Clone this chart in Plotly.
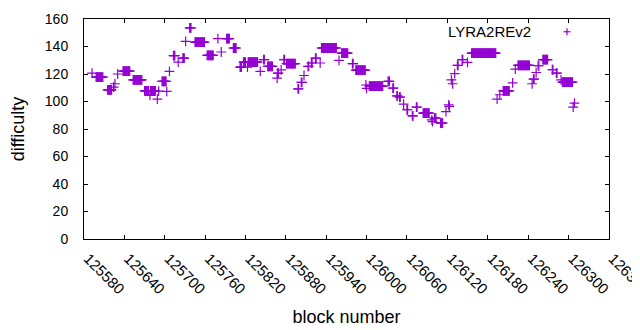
import plotly.graph_objects as go

# Difficulty data as runs of consecutive blocks sharing one difficulty value
run_start = [125592, 125598, 125615, 125624, 125626, 125630, 125638, 125653, 125670, 125678,
             125679, 125689, 125691, 125696, 125703, 125707, 125713, 125720, 125727, 125731,
             125737, 125745, 125763, 125779, 125784, 125792, 125802, 125812, 125817, 125823,
             125824, 125842, 125847, 125853, 125867, 125868, 125873, 125877, 125881, 125898,
             125903, 125907, 125913, 125918, 125924, 125931, 125933, 125959, 125963, 125979,
             125984, 125999, 126000, 126004, 126032, 126039, 126045, 126049, 126055, 126060,
             126068, 126074, 126084, 126097, 126098, 126101, 126110, 126118, 126122, 126123,
             126126, 126128, 126131, 126135, 126142, 126150, 126156, 126194, 126198, 126203,
             126217, 126221, 126225, 126246, 126248, 126252, 126255, 126262, 126276, 126282,
             126289, 126291, 126307, 126309]
run_len = [1, 11, 7, 1, 1, 1, 11, 14, 7, 1,
           8, 1, 1, 7, 1, 1, 3, 1, 3, 1,
           3, 15, 10, 1, 1, 5, 5, 3, 4, 1,
           15, 1, 2, 8, 1, 2, 1, 2, 14, 2,
           2, 1, 2, 2, 2, 1, 23, 1, 10, 2,
           15, 1, 1, 21, 3, 2, 2, 2, 1, 2,
           2, 2, 10, 1, 1, 3, 4, 1, 1, 1,
           1, 1, 1, 2, 2, 1, 37, 1, 1, 10,
           1, 1, 18, 1, 2, 1, 2, 8, 2, 2,
           1, 16, 1, 1]
run_value = [120.7, 117.8, 108.5, 110.5, 112.9, 120.0, 122.1, 115.8, 107.8, 104.4,
             107.8, 101.7, 107.5, 114.6, 107.3, 121.9, 133.3, 128.7, 131.6, 143.7,
             153.5, 143.2, 133.5, 145.7, 136.0, 145.7, 138.9, 125.0, 128.7, 125.0,
             128.7, 121.9, 130.4, 125.5, 117.0, 120.7, 123.0, 130.4, 127.5, 109.2,
             113.9, 118.9, 125.5, 128.0, 131.6, 128.0, 138.9, 129.9, 135.2, 127.5,
             122.8, 112.0, 109.5, 111.2, 114.6, 109.7, 104.1, 103.2, 98.1, 94.0,
             89.6, 95.9, 91.5, 86.7, 85.4, 87.9, 84.3, 92.7, 97.6, 96.4,
             115.8, 112.9, 120.2, 126.2, 130.4, 128.4, 135.2, 101.7, 104.9, 107.8,
             113.5, 123.6, 126.2, 112.9, 116.3, 121.1, 126.0, 130.4, 123.1, 120.7,
             115.8, 114.1, 95.9, 98.8]

x_ticks = list(range(125580, 126361, 60))
y_ticks = [0, 20, 40, 60, 80, 100, 120, 140, 160]
series_name = "LYRA2REv2"

blocks, diffs = [], []
for s, n, v in zip(run_start, run_len, run_value):
    for i in range(n):
        blocks.append(s + i)
        diffs.append(v)

COLOR = "#9400D3"
FONT = "Liberation Sans, Arial, sans-serif"

fig = go.Figure()
fig.add_trace(go.Scatter(
    x=blocks, y=diffs, mode="markers", name=series_name, showlegend=False,
    marker=dict(symbol="cross-thin", size=7, color=COLOR,
                line=dict(color=COLOR, width=1.2)),
))

axis_common = dict(showline=True, linecolor="black", linewidth=1, mirror="ticks",
                   ticks="inside", ticklen=4, tickcolor="black", showgrid=False,
                   zeroline=False, automargin=False)

# page body has an 8px default margin, so the figure is drawn 8px smaller
fig.update_layout(
    width=632, height=322, autosize=False,
    margin=dict(l=76, r=31, t=11, b=91),
    paper_bgcolor="white", plot_bgcolor="white",
    font=dict(family=FONT, size=15, color="black"),
    xaxis=dict(range=[125580, 126360.3], tickvals=x_ticks,
               ticktext=[str(t) for t in x_ticks], tickangle=45,
               tickfont=dict(family=FONT, size=15),
               ticklabelstandoff=4, ticklabelshift=4, ticklabeloverflow="allow",
               title=dict(text="block number", standoff=14), **axis_common),
    yaxis=dict(range=[0, 160], tickvals=y_ticks, ticklabelstandoff=12,
               tickfont=dict(family=FONT, size=14),
               title=dict(text="difficulty", standoff=16), **axis_common),
    annotations=[dict(text=series_name, xref="paper", yref="paper",
                      x=0.855, y=0.942, xanchor="right", yanchor="middle",
                      showarrow=False, font=dict(family=FONT, size=15))],
    shapes=[
        dict(type="line", xref="paper", yref="paper", x0=0.920 - 0.0067, x1=0.920 + 0.0067,
             y0=0.942, y1=0.942, line=dict(color=COLOR, width=1.2)),
        dict(type="line", xref="paper", yref="paper", x0=0.920, x1=0.920,
             y0=0.942 - 0.016, y1=0.942 + 0.016, line=dict(color=COLOR, width=1.2)),
    ],
)

fig.write_html("out.html")
